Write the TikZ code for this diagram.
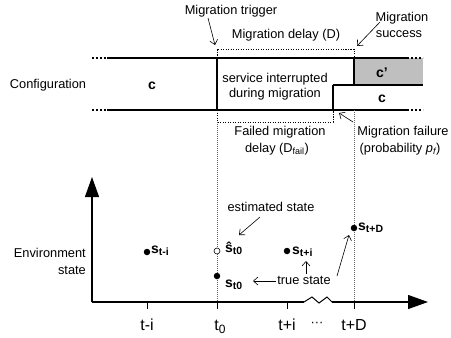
\documentclass[tikz,border=0pt]{standalone}
\usepackage{fontspec}
\setmainfont{Liberation Sans}
\usetikzlibrary{arrows.meta}
\newcommand{\mysub}[1]{\raisebox{-2.6pt}{\fontsize{10.5}{12}\selectfont #1}}
\newcommand{\tsub}[1]{\raisebox{-3.5pt}{\fontsize{12}{13}\selectfont #1}}
\begin{document}
\begin{tikzpicture}[x=1pt,y=-1pt,
  every node/.style={font=\fontsize{12.8}{15}\selectfont, inner sep=0pt},
  cfg/.style={line width=1.2pt},
  cfgext/.style={line width=1.2pt, dash pattern=on 2pt off 2pt},
  dotbox/.style={line width=1pt, dash pattern=on 1.2pt off 1.3pt},
  guide/.style={line width=0.6pt, black!60, dash pattern=on 0.8pt off 1.2pt},
  note/.style={-{Straight Barb[length=4.5pt,width=8pt]}, line width=0.6pt},
  axisline/.style={line width=1.3pt},
  tick/.style={line width=1pt},
  dotf/.style={circle, fill=black, minimum size=6.5pt},
  doto/.style={circle, draw=black, fill=white, line width=0.6pt, minimum size=6pt},
  lbl/.style={anchor=base},
  slbl/.style={anchor=base west, font=\fontsize{14}{16}\selectfont\bfseries},
  tlbl/.style={anchor=base, font=\fontsize{16}{18}\selectfont},
]
\useasboundingbox (0,0) rectangle (451,338);

% configuration band
\fill[black!25] (354,58) rectangle (423,85);
\draw[cfgext] (92,58) -- (107,58);
\draw[cfgext] (92,110) -- (107,110);
\draw[cfg] (107,58) -- (407,58);
\draw[cfg] (107,110) -- (407,110);
\draw[cfgext] (407,58) -- (423,58);
\draw[cfgext] (407,110) -- (423,110);
\draw[cfg] (217,58) -- (217,110);
\draw[cfg] (354,58) -- (354,85);
\draw[cfg] (333,85) -- (423,85);
\draw[cfg] (333,85) -- (333,110);

% dotted delay boxes
\draw[dotbox] (217,58) -- (217,49) -- (354,49) -- (354,58);
\draw[dotbox] (217,110) -- (217,122) -- (333,122) -- (333,110);

% guides
\draw[guide] (217,122) -- (217,302);
\draw[guide] (354,110) -- (354,302);

% axes
\draw[axisline, -{Triangle[length=20pt,width=14pt]}] (92,302) -- (92,177);
\draw[axisline] (92,302) -- (304,302);
\draw[line width=1pt] (304,302) -- (312,297) -- (319,303) -- (327,297) -- (332,302);
\draw[axisline, -{Triangle[length=20pt,width=14pt]}] (332,302) -- (428,302);
\foreach \x in {147,217,287,354} \draw[tick] (\x,302) -- (\x,309);

% texts
\node[lbl] (trig) at (231,14) {Migration trigger};
\node[lbl] (delay) at (286,38) {Migration delay (D)};
\node[lbl] (succ1) at (402,21) {Migration};
\node[lbl] (succ2) at (399,37) {success};
\node[lbl] (conf) at (48,88) {Configuration};
\node[lbl, font=\fontsize{14}{16}\selectfont] (c1) at (152,89) {\textbf{c}};
\node[lbl] (serv1) at (275,82) {service interrupted};
\node[lbl] (serv2) at (275,97) {during migration};
\node[lbl, font=\fontsize{14}{16}\selectfont] (cp) at (382,77) {\textbf{c’}};
\node[lbl, font=\fontsize{14}{16}\selectfont] (c2) at (382,102) {\textbf{c}};
\node[lbl] (fail1) at (280,135) {Failed migration};
\node[lbl] (fail2) at (277,152) {delay (D\textsubscript{fail})};
\node[lbl] (mf1) at (403,135) {Migration failure};
\node[lbl] (mf2) at (400,152) {(probability \textit{p\textsubscript{f}})};
\node[anchor=base east] (env1) at (86,257) {Environment};
\node[anchor=base east] (env2) at (86,274) {state};
\node[lbl] (est) at (271,211) {estimated state};
\node[lbl] (true) at (304,284) {true state};
\node[tlbl] (ti) at (147,330) {t-i};
\node[tlbl] (t0) at (220,330) {t\tsub{0}};
\node[tlbl] (tpi) at (287,330) {t+i};
\node[lbl] (dots) at (317,326) {···};
\node[tlbl] (tpd) at (354,330) {t+D};

% state points
\node[dotf] (p1) at (147,252) {};
\node[doto] (p2) at (217,251) {};
\node[dotf] (p3) at (217,276) {};
\node[dotf] (p4) at (287,251) {};
\node[dotf] (p5) at (354,228) {};
\node[slbl] (l1) at (151,253) {s\mysub{t-i}};
\node[slbl] (l2) at (225,252) {\^{s}\mysub{t0}};
\node[slbl] (l3) at (225,287) {s\mysub{t0}};
\node[slbl] (l4) at (292,254) {s\mysub{t+i}};
\node[slbl] (l5) at (358,230) {s\mysub{t+D}};

% annotation arrows
\coordinate (a1s) at (208,18); \coordinate (a1e) at (215,45);
\coordinate (a2s) at (380,22); \coordinate (a2e) at (357,46);
\coordinate (a3s) at (353,122); \coordinate (a3e) at (339,113);
\coordinate (a4s) at (260,217); \coordinate (a4e) at (239,235);
\coordinate (a5s) at (276,281); \coordinate (a5e) at (253,281);
\coordinate (a6s) at (306,274); \coordinate (a6e) at (306,261);
\coordinate (a7s) at (337,276); \coordinate (a7e) at (349,235);
\draw[note] (a1s) -- (a1e);
\draw[note] (a2s) -- (a2e);
\draw[note] (a3s) -- (a3e);
\draw[note] (a4s) -- (a4e);
\draw[note] (a5s) -- (a5e);
\draw[note] (a6s) -- (a6e);
\draw[note] (a7s) -- (a7e);
\end{tikzpicture}
\end{document}
